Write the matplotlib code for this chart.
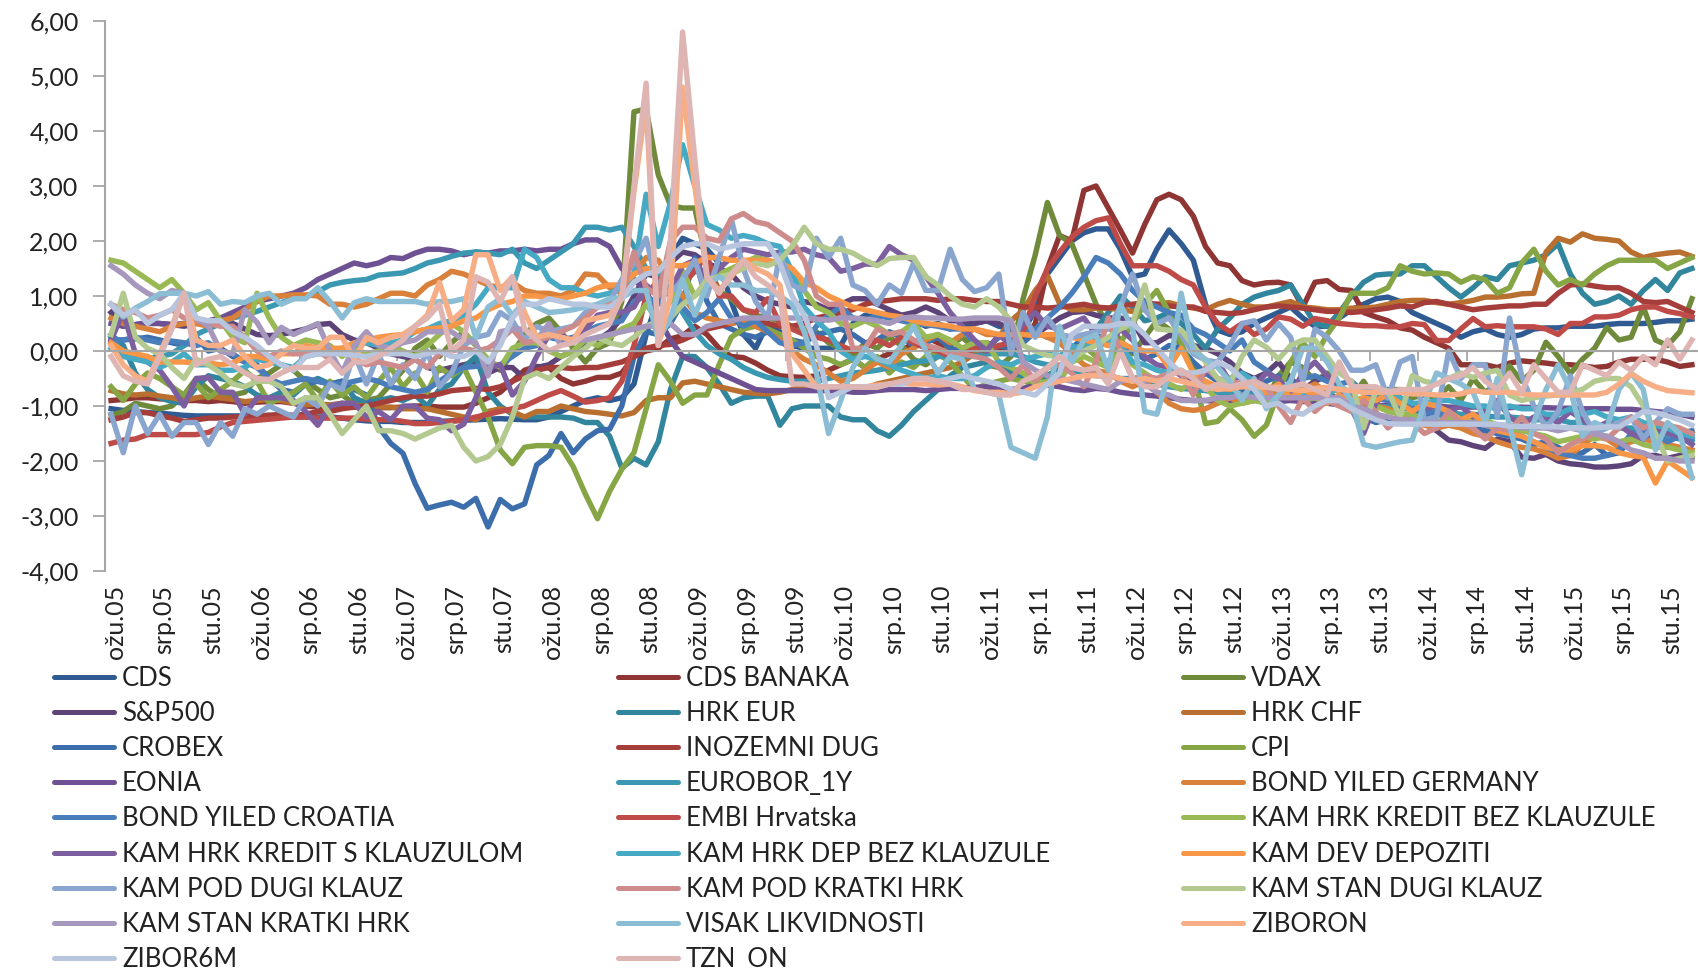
import matplotlib
matplotlib.use("Agg")
import matplotlib.pyplot as plt
from matplotlib.lines import Line2D
from matplotlib.transforms import ScaledTranslation
import numpy as np

plt.rcParams['font.family'] = ['Lato', 'DejaVu Sans']

# monthly values, ozu.05 - sij.16, one row per year
cds = [-1.05,-1.08,-1.10,-1.12,-1.13,-1.15,-1.17,-1.18,-1.18,-1.18,
 -1.18,-1.18,-1.18,-1.17,-1.18,-1.20,-1.20,-1.20,-1.20,-1.22,-1.25,-1.27,
 -1.28,-1.28,-1.30,-1.30,-1.30,-1.28,-1.27,-1.26,-1.25,-1.24,-1.23,-1.24,
 -1.25,-1.25,-1.20,-1.10,-1.00,-0.90,-0.85,-0.90,-0.85,-0.60,0.30,0.95,
 1.70,2.05,1.95,1.85,1.60,0.90,0.30,0.05,0.50,0.35,0.10,0.05,
 0.05,0.05,0.10,0.50,0.65,0.60,0.70,0.65,0.55,0.45,0.50,0.40,
 0.45,0.50,0.55,0.45,0.40,0.35,0.75,1.40,1.70,2.00,2.15,2.22,
 2.22,1.85,1.35,1.40,1.85,2.20,1.95,1.65,0.85,0.38,0.30,0.35,
 0.50,0.60,0.70,0.80,0.60,0.45,0.45,0.60,0.75,0.85,0.95,0.98,
 0.90,0.70,0.60,0.50,0.40,0.25,0.35,0.40,0.30,0.25,0.30,0.40,
 0.42,0.42,0.45,0.45,0.45,0.48,0.50,0.50,0.50,0.52,0.55,0.55,
 0.58]
cds_banaka = [-0.90,-0.88,-0.85,-0.85,-0.87,-0.88,-0.90,-0.90,-0.92,-0.90,
 -0.92,-0.95,-0.93,-0.92,-0.92,-0.95,-1.00,-1.02,-1.02,-1.02,-1.02,-1.02,
 -1.03,-1.03,-1.02,-1.00,-1.00,-1.02,-1.02,-1.02,-0.95,-0.85,-0.75,-0.55,
 -0.35,-0.28,-0.30,-0.50,-0.60,-0.55,-0.48,-0.48,-0.40,-0.10,0.00,0.05,
 0.22,0.28,0.45,0.30,0.05,-0.10,-0.12,-0.22,-0.35,-0.45,-0.47,-0.48,
 -0.45,-0.35,-0.25,-0.15,-0.30,-0.15,-0.05,0.00,0.15,0.25,0.15,-0.05,
 -0.10,0.05,0.15,0.05,-0.05,0.20,0.50,1.50,2.10,2.00,2.92,3.00,
 2.60,2.20,1.78,2.30,2.75,2.85,2.75,2.45,1.90,1.60,1.55,1.28,
 1.20,1.24,1.25,1.20,0.80,1.25,1.28,1.12,1.10,0.70,0.62,0.55,
 0.42,0.38,0.25,0.15,0.05,-0.25,-0.25,-0.25,-0.30,-0.22,-0.18,-0.20,
 -0.22,-0.25,-0.25,-0.27,-0.30,-0.28,-0.20,-0.15,-0.15,-0.15,-0.20,-0.28,
 -0.25]
vdax = [-1.17,-1.10,-0.95,-1.00,-1.05,-1.00,-0.80,-0.50,-0.70,-0.85,
 -0.80,-0.75,-0.50,-0.40,-0.25,-0.35,-0.55,-0.70,-0.85,-0.80,-0.95,-0.90,
 -0.85,-0.60,-0.35,0.05,0.20,-0.10,0.15,0.35,0.10,-0.20,-0.35,-0.05,
 0.30,0.50,0.60,0.35,0.05,-0.20,0.05,0.15,0.90,4.35,4.40,3.20,
 2.65,2.60,2.60,1.60,1.10,0.95,0.75,0.65,0.60,0.55,0.45,0.40,
 0.35,0.15,0.05,-0.10,0.15,0.05,0.25,0.10,-0.15,-0.25,-0.10,0.10,
 0.25,0.05,-0.25,-0.30,-0.10,0.95,1.75,2.70,2.10,1.95,1.40,0.85,
 0.45,0.20,-0.05,0.25,0.55,0.40,0.10,-0.30,-0.60,-0.70,-0.95,-0.55,
 -0.75,-0.90,-0.45,-0.20,-0.30,-0.55,-0.40,-0.65,-0.85,-0.55,-0.90,-0.70,
 -0.70,-0.85,-0.80,-0.85,-0.65,-0.90,-0.50,-0.75,-0.60,-0.27,-0.55,-0.35,
 0.16,-0.10,-0.41,-0.15,0.05,0.43,0.20,0.25,0.80,0.20,0.10,0.35,
 0.95]
sp500 = [0.70,0.45,0.48,0.50,0.50,0.48,0.45,0.50,0.55,0.55,
 0.50,0.40,0.30,0.28,0.30,0.35,0.40,0.48,0.50,0.30,0.20,0.15,
 0.05,-0.05,-0.10,-0.15,-0.30,-0.35,-0.30,-0.25,-0.20,-0.40,-0.30,-0.30,
 -0.50,-0.30,-0.25,-0.10,0.00,0.10,0.20,0.35,0.60,1.00,1.40,1.35,
 1.60,1.80,1.75,1.60,1.50,1.40,1.15,1.00,0.90,0.85,0.80,0.90,
 0.85,0.75,0.85,0.95,0.95,0.85,0.75,0.65,0.70,0.80,0.70,0.55,
 0.55,0.50,0.55,0.50,0.40,0.35,0.30,0.45,0.60,0.70,0.72,0.65,
 0.60,0.60,0.55,0.15,0.15,0.28,0.25,0.10,0.05,-0.05,-0.20,-0.40,
 -0.50,-0.40,-0.20,-0.50,-0.70,-0.55,-0.45,-0.60,-0.90,-1.10,-1.20,-1.25,
 -1.22,-1.25,-1.30,-1.45,-1.62,-1.65,-1.72,-1.77,-1.60,-1.65,-1.93,-1.95,
 -1.88,-2.00,-2.05,-2.07,-2.11,-2.11,-2.09,-2.05,-1.90,-1.90,-1.95,-1.90,
 -1.95]
hrk_eur = [0.30,0.10,-0.40,-0.70,-0.85,-0.92,-0.95,-0.65,-0.45,-0.50,
 -0.55,-0.65,-0.80,-0.85,-0.75,-0.80,-0.60,-0.50,-0.60,-0.55,-0.85,-0.95,
 -0.90,-0.85,-0.90,-0.80,-1.00,-0.70,-0.60,-0.30,-0.10,-0.75,-1.00,-1.15,
 -1.20,-1.20,-1.20,-1.20,-1.22,-1.30,-1.30,-1.55,-2.13,-1.95,-2.07,-1.65,
 -0.70,-0.10,-0.10,-0.30,-0.60,-0.95,-0.85,-0.82,-0.82,-1.35,-1.05,-1.00,
 -1.00,-1.00,-1.20,-1.25,-1.25,-1.45,-1.55,-1.35,-1.10,-0.90,-0.70,-0.45,
 -0.30,-0.25,-0.20,-0.25,-0.40,-0.50,-0.55,-0.45,-0.30,-0.05,0.10,0.40,
 0.70,1.00,0.80,0.55,0.60,0.70,0.50,0.30,0.05,0.40,0.60,0.85,
 0.98,1.05,1.10,1.20,0.85,0.50,0.45,0.70,1.00,1.25,1.38,1.40,
 1.40,1.55,1.55,1.35,1.15,0.98,1.15,1.35,1.30,1.55,1.60,1.65,
 1.75,1.95,1.40,1.05,0.85,0.90,1.00,0.85,1.10,1.30,1.10,1.42,
 1.50]
hrk_chf = [-0.72,-0.78,-0.80,-0.78,-0.82,-0.85,-0.90,-0.85,-0.82,-0.85,
 -0.88,-0.92,-0.90,-0.88,-0.90,-0.95,-0.98,-0.96,-0.98,-0.95,-1.00,-1.00,
 -1.02,-1.02,-1.05,-1.05,-1.05,-1.10,-1.15,-1.20,-1.25,-1.10,-1.05,-1.10,
 -1.20,-1.10,-1.10,-1.00,-1.05,-1.10,-1.12,-1.15,-1.18,-1.12,-0.90,-0.85,
 -0.85,-0.58,-0.55,-0.60,-0.65,-0.70,-0.75,-0.77,-0.78,-0.75,-0.70,-0.65,
 -0.68,-0.72,-0.72,-0.70,-0.68,-0.60,-0.55,-0.50,-0.45,-0.40,-0.35,-0.30,
 -0.20,-0.05,0.05,0.25,0.55,0.74,1.10,1.37,0.86,0.75,0.75,0.78,
 0.78,0.75,0.72,0.78,0.85,0.88,0.82,0.78,0.75,0.85,0.92,0.85,
 0.80,0.80,0.85,0.90,0.80,0.78,0.75,0.75,0.78,0.78,0.80,0.85,
 0.90,0.92,0.92,0.88,0.85,0.88,0.92,0.98,0.98,1.00,1.04,1.05,
 1.80,2.05,1.98,2.13,2.05,2.03,2.00,1.80,1.70,1.75,1.78,1.80,
 1.72]
crobex = [0.20,0.20,0.22,0.25,0.20,0.15,0.10,0.25,0.00,0.05,
 -0.10,-0.20,-0.25,-0.50,-0.70,-0.75,-0.60,-0.55,-0.60,-0.55,-0.70,-0.80,
 -1.38,-1.68,-1.86,-2.41,-2.86,-2.80,-2.75,-2.84,-2.68,-3.20,-2.70,-2.87,
 -2.78,-2.07,-1.90,-1.50,-1.85,-1.60,-1.45,-1.42,-1.00,-0.10,0.35,0.30,
 0.50,0.90,1.70,0.90,0.50,0.40,0.30,0.25,0.35,0.30,0.20,0.15,
 0.30,0.35,0.40,0.30,0.15,0.20,0.35,0.25,0.10,0.15,0.25,0.05,
 0.00,-0.10,-0.05,0.10,0.05,0.15,0.35,0.25,0.20,0.05,0.25,0.30,
 0.15,0.10,0.00,-0.15,-0.05,0.10,0.05,-0.20,-0.40,-0.55,-0.50,-0.70,
 -0.75,-0.55,-0.45,-0.55,-0.65,-0.90,-0.80,-0.85,-1.05,-1.20,-1.30,-1.25,
 -1.30,-1.10,-1.15,-1.30,-1.25,-1.30,-1.40,-1.45,-1.50,-1.55,-1.60,-1.70,
 -1.65,-1.75,-1.90,-1.85,-1.70,-1.90,-1.85,-1.60,-1.55,-1.60,-1.55,-1.50,
 -1.45]
inozemni_dug = [-1.25,-1.20,-1.12,-1.12,-1.18,-1.22,-1.28,-1.25,-1.22,-1.22,
 -1.20,-1.20,-1.18,-1.17,-1.15,-1.17,-1.15,-1.10,-1.10,-1.05,-1.02,-1.00,
 -0.95,-0.90,-0.85,-0.82,-0.82,-0.78,-0.72,-0.70,-0.68,-0.70,-0.65,-0.55,
 -0.45,-0.35,-0.30,-0.30,-0.32,-0.30,-0.30,-0.25,-0.20,-0.10,0.05,0.10,
 0.12,0.20,0.30,0.40,0.45,0.50,0.55,0.55,0.50,0.45,0.45,0.50,
 0.60,0.65,0.70,0.75,0.85,0.90,0.92,0.95,0.95,0.95,0.92,0.95,
 0.95,0.92,0.90,0.90,0.85,0.80,0.80,0.78,0.80,0.82,0.85,0.80,
 0.78,0.82,0.85,0.88,0.85,0.82,0.80,0.80,0.72,0.70,0.68,0.70,
 0.75,0.80,0.82,0.80,0.78,0.75,0.72,0.72,0.70,0.72,0.75,0.78,
 0.82,0.80,0.88,0.90,0.85,0.80,0.75,0.78,0.80,0.82,0.82,0.85,
 0.85,1.05,1.20,1.22,1.18,1.15,1.15,1.05,0.90,0.88,0.90,0.80,
 0.70]
cpi = [-0.65,-0.90,-0.60,-0.40,-0.50,-0.65,-0.80,-0.60,-0.85,-0.70,
 -0.55,-0.35,-0.55,-0.95,-0.85,-0.75,-0.60,-0.90,-0.55,-0.80,-0.65,-0.85,
 -0.55,-0.30,-0.65,-0.40,-0.75,-0.30,-0.45,-0.30,-0.75,-1.20,-1.80,-2.05,
 -1.75,-1.72,-1.72,-1.75,-2.10,-2.60,-3.05,-2.55,-2.15,-1.85,-1.05,-0.25,
 -0.55,-0.95,-0.80,-0.80,-0.25,0.25,0.40,0.45,0.40,0.30,0.20,0.05,
 -0.10,-0.15,-0.25,-0.15,-0.30,-0.10,-0.40,-0.20,-0.30,-0.10,-0.05,-0.20,
 -0.45,-0.70,-0.60,-0.55,-0.50,-0.55,-0.60,-0.30,-0.10,0.05,0.10,-0.10,
 -0.20,0.15,0.50,0.85,1.10,0.70,0.15,-0.40,-1.32,-1.28,-1.05,-1.25,
 -1.55,-1.35,-0.75,-0.20,0.15,-0.10,0.30,0.60,1.05,1.05,1.05,1.15,
 1.55,1.45,1.40,1.42,1.40,1.25,1.35,1.30,1.05,1.15,1.60,1.85,
 1.45,1.20,1.30,1.20,1.40,1.55,1.65,1.65,1.65,1.65,1.50,1.60,
 1.70]
eonia = [0.50,0.45,0.48,0.52,0.50,0.48,0.50,0.52,0.55,0.60,
 0.70,0.80,0.90,0.95,1.00,1.05,1.15,1.30,1.40,1.50,1.60,1.55,
 1.60,1.70,1.68,1.78,1.85,1.85,1.82,1.75,1.80,1.78,1.82,1.82,
 1.85,1.82,1.85,1.85,1.95,2.02,2.02,1.90,1.50,1.30,1.10,0.60,
 0.20,-0.10,-0.20,-0.30,-0.40,-0.50,-0.60,-0.70,-0.72,-0.72,-0.72,-0.72,
 -0.72,-0.72,-0.72,-0.75,-0.75,-0.72,-0.70,-0.70,-0.70,-0.72,-0.70,-0.68,
 -0.68,-0.66,-0.65,-0.70,-0.70,-0.68,-0.62,-0.62,-0.65,-0.70,-0.72,-0.68,
 -0.70,-0.75,-0.78,-0.80,-0.82,-0.85,-0.88,-0.90,-0.90,-0.92,-0.92,-0.90,
 -0.90,-0.90,-0.92,-0.90,-0.92,-0.92,-0.95,-0.98,-0.98,-1.00,-1.00,-0.98,
 -1.00,-1.02,-1.00,-1.00,-1.02,-1.02,-1.02,-1.02,-1.03,-1.03,-1.02,-1.03,
 -1.03,-1.04,-1.04,-1.05,-1.05,-1.05,-1.06,-1.06,-1.08,-1.10,-1.12,-1.15,
 -1.20]
eurobor_1y = [0.25,-0.05,-0.10,-0.15,-0.10,-0.05,0.10,0.30,0.40,0.50,
 0.60,0.65,0.72,0.80,0.88,0.95,1.00,1.08,1.20,1.25,1.28,1.30,
 1.38,1.40,1.42,1.50,1.60,1.65,1.72,1.78,1.80,1.78,1.75,1.85,
 1.60,1.50,1.65,1.80,1.95,2.25,2.25,2.20,2.25,1.90,1.50,1.40,
 1.30,0.70,0.35,0.10,-0.05,-0.15,-0.30,-0.40,-0.48,-0.52,-0.55,-0.55,
 -0.55,-0.50,-0.45,-0.40,-0.38,-0.35,-0.30,-0.25,-0.20,-0.18,-0.10,-0.10,
 -0.08,-0.10,-0.05,-0.05,-0.05,-0.10,-0.20,-0.25,-0.30,-0.35,-0.40,-0.45,
 -0.45,-0.50,-0.50,-0.55,-0.60,-0.65,-0.68,-0.70,-0.72,-0.75,-0.78,-0.80,
 -0.80,-0.82,-0.85,-0.82,-0.85,-0.85,-0.88,-0.90,-0.92,-0.95,-1.00,-1.02,
 -1.05,-1.05,-1.10,-1.10,-1.12,-1.15,-1.15,-1.18,-1.20,-1.20,-1.22,-1.25,
 -1.25,-1.25,-1.30,-1.30,-1.35,-1.35,-1.40,-1.40,-1.45,-1.50,-1.55,-1.60,
 -1.65]
bond_germany = [0.60,0.50,0.45,0.40,0.35,0.45,0.50,0.50,0.45,0.55,
 0.60,0.75,0.90,1.00,1.00,1.02,1.02,1.00,0.85,0.85,0.80,0.85,
 0.95,1.05,1.05,1.00,1.20,1.30,1.45,1.40,1.30,1.20,1.15,1.25,
 1.10,1.05,1.05,1.00,1.10,1.40,1.38,1.15,1.05,1.40,1.70,1.65,
 1.30,1.00,0.70,0.60,0.55,0.50,0.55,0.45,0.35,0.20,0.00,-0.15,
 -0.25,-0.40,-0.55,-0.50,-0.35,-0.20,-0.30,-0.05,0.05,0.20,0.30,0.15,
 0.30,0.40,0.30,0.30,0.25,0.35,0.35,0.25,0.15,-0.05,-0.25,-0.35,
 -0.40,-0.55,-0.65,-0.55,-0.75,-0.95,-1.05,-1.08,-1.05,-0.95,-0.85,-0.95,
 -0.90,-0.80,-0.75,-0.80,-0.70,-0.60,-0.75,-0.70,-0.85,-0.95,-1.00,-1.05,
 -1.15,-1.30,-1.35,-1.40,-1.35,-1.40,-1.50,-1.55,-1.65,-1.72,-1.75,-1.78,
 -1.85,-1.95,-1.90,-1.70,-1.55,-1.60,-1.75,-1.65,-1.60,-1.65,-1.70,-1.75,
 -1.80]
bond_croatia = [0.20,0.20,0.25,0.20,0.15,0.18,0.15,0.10,0.15,0.00,
 -0.05,-0.20,-0.30,-0.50,-0.60,-0.55,-0.50,-0.55,-0.60,-0.60,-0.55,-0.50,
 -0.55,-0.65,-0.70,-0.75,-0.70,-0.55,-0.40,-0.30,-0.28,-0.25,-0.25,-0.10,
 0.05,0.10,0.25,0.20,0.25,0.35,0.45,0.50,0.55,0.90,1.00,0.85,
 1.20,0.80,0.55,0.70,0.95,0.60,0.45,0.55,0.35,0.15,0.10,0.15,
 0.45,0.65,0.80,0.60,0.55,0.65,0.60,0.55,0.50,0.48,0.45,0.40,
 0.40,0.15,0.05,0.25,0.45,0.35,0.40,0.60,0.80,1.05,1.35,1.70,
 1.60,1.40,1.10,0.90,0.80,0.70,0.65,0.40,0.30,0.15,0.00,0.20,
 -0.20,-0.35,-0.55,-0.80,-0.50,-0.45,-0.55,-0.60,-0.55,-0.75,-0.85,-0.90,
 -1.00,-1.05,-1.10,-1.15,-1.20,-1.25,-1.30,-1.35,-1.40,-1.45,-1.55,-1.65,
 -1.75,-1.85,-1.90,-1.95,-1.95,-1.90,-1.80,-1.50,-1.45,-1.50,-1.65,-1.55,
 -1.60]
embi = [-1.68,-1.62,-1.60,-1.52,-1.52,-1.52,-1.52,-1.52,-1.48,-1.38,
 -1.30,-1.28,-1.26,-1.24,-1.22,-1.20,-1.20,-1.22,-1.22,-1.22,-1.22,-1.24,
 -1.25,-1.25,-1.28,-1.32,-1.32,-1.30,-1.28,-1.25,-1.20,-1.15,-1.10,-1.05,
 -1.00,-0.90,-0.80,-0.72,-0.82,-0.93,-0.90,-0.85,-0.55,0.10,1.00,1.30,
 1.00,1.20,1.45,1.75,1.00,1.00,0.75,0.70,0.95,0.50,0.40,0.30,
 0.25,0.20,0.10,0.00,0.05,0.20,0.10,0.25,0.15,0.05,0.00,-0.10,
 -0.05,0.05,0.00,0.10,0.15,0.35,1.00,1.50,1.80,2.07,2.25,2.37,
 2.42,1.95,1.55,1.55,1.55,1.45,1.30,1.20,0.80,0.50,0.35,0.50,
 0.30,0.40,0.62,0.58,0.45,0.59,0.55,0.50,0.48,0.46,0.46,0.44,
 0.44,0.50,0.48,0.19,0.19,0.40,0.59,0.44,0.46,0.44,0.44,0.44,
 0.40,0.30,0.50,0.50,0.62,0.62,0.65,0.75,0.80,0.80,0.72,0.68,
 0.62]
kam_hrk_bez = [1.65,1.60,1.45,1.30,1.15,1.30,1.05,0.75,0.88,0.55,
 0.25,0.15,1.05,0.60,0.25,0.10,0.20,0.15,0.10,-0.10,0.05,-0.05,
 0.00,0.10,0.00,-0.10,0.10,0.30,0.50,0.35,0.10,-0.15,-0.30,0.05,
 0.15,0.15,0.00,-0.10,0.00,0.20,0.10,0.25,0.40,0.50,0.85,0.55,
 0.90,1.45,1.00,1.20,1.40,1.50,1.60,1.70,1.65,1.55,1.40,1.10,
 0.80,0.70,0.50,0.45,0.55,0.45,0.30,0.35,0.50,0.25,0.30,0.20,
 0.05,0.15,0.15,-0.20,-0.30,-0.40,-0.60,-0.55,-0.55,-0.20,-0.10,-0.20,
 -0.30,0.00,-0.25,-0.40,-0.55,-0.60,-0.70,-0.55,-0.65,-0.90,-1.00,-0.95,
 -0.90,-0.95,-0.85,-0.60,-0.90,-0.85,-0.95,-0.80,-0.90,-0.85,-1.00,-1.10,
 -1.15,-1.15,-1.25,-1.30,-1.20,-1.30,-1.20,-1.25,-1.35,-1.40,-1.45,-1.50,
 -1.55,-1.65,-1.60,-1.55,-1.60,-1.55,-1.65,-1.60,-1.70,-1.75,-1.75,-1.80,
 -1.85]
kam_hrk_s = [0.20,0.70,-0.05,-0.20,-0.35,-0.65,-1.00,-0.50,-0.48,-0.75,
 -0.75,-1.15,-0.85,-0.85,-0.85,-0.90,-1.10,-1.35,-1.00,-0.95,-0.95,-1.20,
 -1.10,-1.25,-1.00,-1.00,-1.22,-1.25,-1.45,-1.33,-0.85,-0.30,-0.25,-0.80,
 -0.55,-0.10,0.30,0.30,0.15,0.40,0.65,0.70,0.70,0.80,1.20,1.00,
 1.10,1.55,1.65,1.30,1.50,1.70,1.85,1.80,1.75,1.80,1.80,1.85,
 1.75,1.70,1.45,1.50,1.58,1.58,1.90,1.75,1.65,1.35,1.05,0.70,
 0.45,0.20,0.00,0.30,0.10,0.50,0.70,0.45,0.40,0.50,0.60,0.30,
 0.10,0.40,0.20,-0.10,-0.25,-0.30,-0.45,-0.60,-0.40,-0.20,-0.55,-0.45,
 -0.65,-0.40,-0.50,-0.80,-0.40,-0.20,-0.45,-0.60,-1.05,-1.50,-0.95,-0.70,
 -0.85,-0.95,-1.05,-1.00,-1.10,-1.00,-1.20,-1.10,-0.90,-1.20,-1.35,-1.20,
 -1.20,-1.30,-1.10,-1.25,-1.40,-1.30,-1.35,-1.50,-1.60,-1.40,-1.50,-1.55,
 -1.70]
kam_hrk_dep = [0.05,-0.10,-0.15,-0.20,-0.30,-0.20,-0.05,-0.25,-0.25,-0.35,
 -0.35,-0.30,-0.15,-0.20,-0.25,-0.30,-0.10,-0.05,-0.05,0.05,0.10,0.15,
 0.10,0.15,0.20,0.35,0.40,0.50,0.55,0.65,0.85,1.15,1.15,1.15,
 1.85,1.70,1.30,1.15,1.15,1.05,1.00,1.05,1.15,1.40,2.85,1.90,
 2.70,3.75,3.00,2.30,2.20,2.05,2.10,2.05,1.95,1.90,1.45,0.80,
 0.55,0.35,0.00,-0.15,-0.10,-0.15,-0.25,-0.35,-0.42,-0.50,-0.45,-0.50,
 -0.50,-0.45,-0.30,-0.20,-0.25,-0.15,-0.10,-0.05,-0.10,0.10,0.00,0.25,
 0.20,0.10,-0.20,-0.25,-0.35,-0.40,-0.35,-0.50,-0.60,-0.65,-0.50,-0.40,
 -0.55,-0.65,-0.70,-0.60,-0.75,-0.80,-0.80,-0.65,-0.75,-0.70,-0.75,-0.85,
 -0.85,-0.95,-0.95,-0.90,-0.90,-0.95,-1.00,-1.00,-1.05,-1.00,-1.05,-1.05,
 -1.15,-1.15,-1.05,-1.15,-1.10,-1.20,-1.25,-1.20,-1.30,-1.35,-1.40,-1.50,
 -1.55]
kam_dev = [0.15,0.00,-0.05,-0.10,-0.20,-0.20,-0.20,-0.22,-0.22,-0.25,
 -0.22,-0.10,-0.10,-0.15,-0.05,-0.05,0.10,0.05,0.05,0.05,0.15,0.20,
 0.25,0.28,0.30,0.35,0.40,0.42,0.45,0.55,0.60,0.75,0.85,0.90,
 1.00,1.00,0.95,0.95,1.00,1.05,1.15,1.20,1.20,1.40,1.50,1.50,
 1.55,1.55,1.60,1.70,1.70,1.65,1.65,1.65,1.65,1.60,1.50,1.25,
 1.15,1.00,0.90,0.80,0.75,0.70,0.65,0.62,0.55,0.50,0.48,0.45,
 0.40,0.40,0.35,0.30,0.30,0.30,0.28,0.30,0.30,0.25,0.20,0.15,
 0.10,0.15,0.05,0.00,0.00,-0.30,0.05,-0.40,-0.55,-0.65,-0.70,-0.60,
 -0.70,-0.75,-0.60,-0.85,-0.70,-0.80,-0.95,-0.80,-0.95,-0.85,-0.90,-0.80,
 -0.95,-1.10,-0.95,-1.00,-1.10,-1.25,-1.15,-1.30,-1.45,-1.50,-1.55,-1.65,
 -1.75,-1.80,-1.80,-1.72,-1.72,-1.75,-1.85,-1.90,-1.93,-2.40,-2.00,-2.15,
 -2.30]
kam_pod_dugi = [-1.15,-1.85,-1.00,-1.50,-1.15,-1.55,-1.30,-1.30,-1.70,-1.30,
 -1.55,-1.05,-1.15,-1.00,-1.10,-1.20,-0.85,-1.00,-0.60,-0.70,-0.05,-0.60,
 -0.05,-0.60,-0.25,-0.50,0.00,-0.65,-0.40,0.10,0.25,0.30,0.70,0.55,
 0.20,0.45,0.35,0.40,0.45,0.70,0.80,0.90,1.30,1.60,2.05,1.10,
 1.05,1.30,1.65,1.00,1.70,2.40,1.50,0.90,0.60,1.75,1.20,1.10,
 2.05,1.70,2.05,1.20,1.10,0.85,1.20,1.05,1.60,1.10,1.10,1.85,
 1.30,1.08,1.15,1.40,-0.05,0.70,0.25,0.60,0.30,0.25,0.30,0.35,
 0.40,0.80,1.40,0.75,0.50,0.60,0.30,-0.05,-0.17,-0.20,0.10,0.50,
 0.55,0.20,0.50,0.25,-0.55,0.40,0.25,0.00,-0.35,-0.35,-0.25,-0.85,
 -0.20,-0.10,-1.25,-1.20,0.00,-0.50,-0.25,-0.25,-1.20,0.60,-0.45,-1.00,
 -1.40,-1.10,-0.45,-1.10,-1.50,-1.40,-1.30,-1.20,-1.60,-1.30,-1.05,-1.15,
 -1.15]
kam_pod_kratki = [0.85,0.75,0.70,0.60,0.65,0.75,0.60,0.55,0.50,0.45,
 0.45,0.25,0.00,-0.10,0.00,-0.05,-0.05,0.00,-0.15,-0.35,-0.15,-0.25,
 -0.20,-0.25,-0.30,-0.15,-0.30,-0.05,0.00,0.05,0.00,0.05,0.20,0.40,
 0.15,0.20,0.25,0.35,0.45,0.60,0.80,0.85,1.00,1.80,1.15,1.00,
 2.00,2.25,2.25,2.05,2.00,2.40,2.50,2.35,2.30,2.15,2.00,1.65,
 1.00,0.85,0.85,0.05,0.05,0.40,0.30,0.35,0.20,0.10,0.05,-0.05,
 -0.05,-0.10,-0.15,-0.30,-0.50,-0.25,-0.55,-0.30,-0.25,-0.40,-0.65,-0.20,
 0.60,0.00,-0.50,-0.45,-0.50,-0.40,-0.40,-0.80,-0.30,-0.50,-0.55,-0.60,
 -0.55,-0.65,-1.00,-1.30,-0.85,-1.10,-0.90,-1.00,-1.10,-0.90,-1.10,-1.40,
 -1.20,-1.30,-1.50,-1.40,-1.10,-1.30,-1.40,-1.60,-1.40,-1.45,-1.20,-1.50,
 -1.60,-1.85,-1.70,-1.60,-1.50,-1.60,-1.40,-1.20,-1.40,-1.30,-1.35,-1.40,
 -1.50]
stan_dugi = [0.30,1.05,0.25,0.05,-0.05,-0.30,-0.50,-0.15,-0.25,-0.40,
 -0.60,-0.65,-0.55,-0.55,-0.65,-0.95,-0.85,-0.85,-1.15,-1.50,-1.25,-1.00,
 -1.45,-1.45,-1.50,-1.60,-1.50,-1.40,-1.35,-1.75,-2.00,-1.92,-1.70,-1.20,
 -0.50,-0.40,-0.50,-0.30,-0.10,0.05,0.25,0.15,0.10,0.25,0.45,0.55,
 0.60,0.85,1.00,1.30,1.35,1.40,1.50,1.60,1.55,1.65,1.90,2.25,
 1.95,1.85,1.85,1.78,1.65,1.55,1.68,1.70,1.70,1.35,1.20,1.00,
 0.85,0.80,0.95,0.80,0.55,0.10,0.00,-0.08,-0.10,-0.15,0.00,0.10,
 0.25,0.40,0.50,1.20,0.40,0.38,0.38,0.10,-0.20,-0.50,-0.60,-0.10,
 0.20,0.07,-0.15,0.10,0.20,0.20,-0.10,-0.40,-0.55,-1.40,-0.72,-0.72,
 -1.20,-0.45,-0.55,-0.60,-0.50,-0.40,-0.48,-0.40,-0.35,-0.80,-0.90,-0.85,
 -0.82,-0.80,-0.75,-0.70,-0.55,-0.50,-0.50,-0.65,-1.00,-1.50,-2.00,-1.95,
 -1.90]
stan_kratki = [1.55,1.40,1.20,1.05,0.95,1.10,1.05,0.60,0.45,0.00,
 -0.05,0.75,0.52,0.15,0.43,0.30,0.40,0.50,0.00,-0.40,0.10,0.35,
 0.10,0.05,0.15,0.20,0.35,0.35,0.35,0.20,0.15,-0.45,0.35,0.40,
 0.40,0.20,0.50,0.10,0.20,0.20,0.25,0.30,0.35,0.40,0.45,0.45,
 0.50,0.30,0.30,0.45,0.50,0.55,0.60,0.60,0.60,0.60,0.60,0.60,
 0.58,0.56,0.60,0.60,0.58,0.55,0.50,0.60,0.62,0.60,0.60,0.58,
 0.58,0.60,0.60,0.60,0.55,-0.20,-0.35,-0.45,-0.50,-0.55,-0.60,-0.65,
 -0.70,-0.55,-0.50,-0.60,-0.75,-0.80,-0.90,-0.90,-0.90,-0.85,-0.85,-0.80,
 -0.85,-0.85,-0.85,-0.85,-0.85,-0.85,-0.85,-0.85,-1.00,-1.05,-1.15,-1.20,
 -1.25,-1.25,-1.30,-1.30,-1.30,-1.30,-1.30,-1.35,-1.35,-1.35,-1.40,-1.40,
 -1.40,-1.45,-1.40,-1.45,-1.50,-1.55,-1.65,-1.80,-1.85,-1.95,-1.95,-2.00,
 -2.00]
visak = [0.85,0.62,0.78,0.90,1.04,1.05,1.05,1.00,1.08,0.85,
 0.90,0.88,1.00,1.05,0.85,0.95,0.95,1.15,0.90,0.60,0.88,0.95,
 0.90,0.90,0.90,0.90,0.85,0.90,0.90,0.95,0.25,0.80,0.95,0.65,
 0.90,0.80,0.70,0.72,0.75,0.80,0.85,0.95,0.97,1.10,1.10,0.20,
 0.60,1.30,0.65,1.20,1.35,1.20,1.20,1.10,1.10,1.00,0.85,0.35,
 -0.40,-1.50,-0.90,-0.30,0.05,-0.15,-0.20,0.10,0.45,0.00,-0.40,-0.10,
 -0.15,-0.70,-0.75,-0.80,-1.75,-1.85,-1.95,-1.20,0.45,-0.20,0.20,0.30,
 -0.35,0.85,0.40,-1.10,-1.15,-0.40,1.05,0.00,-0.15,-0.30,-0.55,-0.90,
 -0.50,-1.05,-0.80,-0.55,0.05,0.05,-0.20,-0.60,-0.90,-1.70,-1.75,-1.70,
 -1.65,-1.62,-0.95,-0.40,-0.50,-0.60,-0.75,-1.30,-0.50,-1.35,-2.25,-1.30,
 -0.70,-0.25,-0.70,-1.55,-1.30,-1.40,-0.70,-0.40,-0.70,-1.80,-1.30,-1.50,
 -2.30]
ziboron = [0.10,-0.25,-0.45,-0.55,-0.05,0.45,1.05,0.20,0.10,0.10,
 0.20,-0.10,-0.30,-0.25,-0.05,0.10,0.05,0.05,0.25,0.25,-0.15,0.25,
 0.15,0.25,0.30,0.45,0.65,1.25,0.55,0.75,1.75,1.75,1.10,1.35,
 0.70,0.25,0.30,0.25,0.20,0.55,0.60,0.65,0.95,2.90,4.50,0.10,
 1.00,4.80,3.00,1.35,1.10,1.35,1.65,1.50,1.40,1.20,-0.05,-0.35,
 -0.65,-0.65,-0.65,-0.65,-0.65,-0.62,-0.60,-0.58,-0.60,-0.60,-0.62,-0.60,
 -0.65,-0.72,-0.75,-0.75,-0.78,-0.75,-0.65,-0.60,-0.55,-0.50,-0.45,-0.45,
 -0.45,-0.50,-0.55,-0.50,-0.55,-0.50,-0.55,-0.60,-0.65,-0.70,-0.68,-0.65,
 -0.65,-0.66,-0.66,-0.70,-0.72,-0.68,-0.66,-0.70,-0.72,-0.75,-0.75,-0.75,
 -0.75,-0.78,-0.78,-0.80,-0.80,-0.78,-0.72,-0.75,-0.75,-0.75,-0.78,-0.80,
 -0.80,-0.80,-0.80,-0.80,-0.80,-0.75,-0.60,-0.41,-0.55,-0.65,-0.72,-0.74,
 -0.76]
zibor6m = [0.85,0.65,0.75,0.50,0.65,0.75,1.05,0.60,0.55,0.55,
 0.35,0.25,0.10,-0.10,-0.25,-0.35,-0.10,-0.05,-0.05,-0.05,-0.08,-0.10,
 -0.05,-0.05,-0.05,-0.10,-0.05,0.00,-0.10,-0.10,0.00,-0.20,0.10,0.60,
 0.85,0.85,0.95,0.90,0.85,0.85,0.80,0.80,0.95,1.25,1.40,1.45,
 1.70,1.90,1.95,1.95,1.85,1.90,1.95,1.95,1.95,1.60,1.00,0.65,
 0.10,-0.85,-0.75,-0.65,-0.65,-0.65,-0.60,-0.60,-0.50,-0.50,-0.55,-0.50,
 -0.45,-0.50,-0.55,-0.60,-0.70,-0.75,-0.80,-0.60,-0.40,0.30,0.45,0.45,
 0.45,0.50,0.50,0.30,0.05,-0.20,-0.40,-0.40,-0.35,-0.20,-0.30,-0.50,
 -0.70,-1.00,-0.95,-1.10,-1.15,-1.00,-0.90,-0.90,-1.05,-1.15,-1.25,-1.32,
 -1.33,-1.33,-1.33,-1.33,-1.33,-1.33,-1.33,-1.33,-1.33,-1.37,-1.37,-1.37,
 -1.38,-1.38,-1.40,-1.40,-1.40,-1.38,-1.38,-1.25,-1.10,-1.12,-1.18,-1.25,
 -1.35]
tzn_on = [-0.10,-0.45,-0.55,-0.60,-0.10,0.40,1.05,-0.25,-0.15,-0.10,
 -0.25,-0.40,-0.50,-0.52,-0.40,-0.30,-0.30,-0.30,-0.15,-0.40,-0.20,-0.20,
 -0.10,0.05,0.20,0.45,0.60,0.85,0.00,0.20,1.35,1.25,0.90,1.35,
 0.40,0.20,0.00,0.10,0.15,0.30,0.40,0.50,1.00,3.00,4.87,0.10,
 2.00,5.80,3.50,1.35,1.05,1.40,1.65,1.35,1.20,1.00,-0.60,-0.60,
 -0.65,-0.65,-0.65,-0.65,-0.66,-0.66,-0.60,-0.55,-0.50,-0.50,-0.55,-0.60,
 -0.70,-0.70,-0.75,-0.80,-0.80,-0.55,-0.45,-0.30,-0.10,-0.30,-0.35,-0.30,
 -0.60,0.00,-0.50,-0.65,-0.65,-0.45,-0.35,-0.50,-0.70,-0.60,-0.65,-0.60,
 -0.55,-0.65,-0.70,-0.65,-0.60,-0.70,-0.80,-0.20,-0.65,-0.65,-0.65,-0.75,
 -0.70,-0.70,-0.70,-0.60,-0.50,-0.45,-0.30,-0.55,-0.70,-0.40,-0.75,-0.25,
 -0.50,-0.75,-0.75,-0.25,-0.35,-0.45,-0.20,-0.35,-0.10,-0.25,0.20,-0.15,
 0.20]

names = ["CDS", "CDS BANAKA", "VDAX", "S&P500", "HRK EUR", "HRK CHF", "CROBEX",
         "INOZEMNI DUG", "CPI", "EONIA", "EUROBOR_1Y", "BOND YILED GERMANY",
         "BOND YILED CROATIA", "EMBI Hrvatska", "KAM HRK KREDIT BEZ KLAUZULE",
         "KAM HRK KREDIT S KLAUZULOM", "KAM HRK DEP BEZ KLAUZULE", "KAM DEV DEPOZITI",
         "KAM POD DUGI KLAUZ", "KAM POD KRATKI HRK", "KAM STAN DUGI KLAUZ",
         "KAM STAN KRATKI HRK", "VISAK LIKVIDNOSTI", "ZIBORON", "ZIBOR6M", "TZN_ON"]
series = [cds, cds_banaka, vdax, sp500, hrk_eur, hrk_chf, crobex, inozemni_dug, cpi,
          eonia, eurobor_1y, bond_germany, bond_croatia, embi, kam_hrk_bez, kam_hrk_s,
          kam_hrk_dep, kam_dev, kam_pod_dugi, kam_pod_kratki, stan_dugi, stan_kratki,
          visak, ziboron, zibor6m, tzn_on]
colors = ["#2f5b92", "#8f3634", "#6f8a3a", "#5e4379", "#31859c", "#b86f30", "#3c6eab",
          "#a53e3b", "#86a545", "#6e5193", "#3a98b2", "#d9803a", "#4a7ebb", "#be4b48",
          "#98b954", "#7d5fa0", "#46aac5", "#f79646", "#8aa6cf", "#cd8c8b", "#b3c990",
          "#a697bc", "#8bbdd4", "#f7ae86", "#b8c5de", "#dfb5b4"]
tick_labels = ["ožu.05", "srp.05", "stu.05", "ožu.06", "srp.06", "stu.06", "ožu.07", "srp.07",
               "stu.07", "ožu.08", "srp.08", "stu.08", "ožu.09", "srp.09", "stu.09", "ožu.10",
               "srp.10", "stu.10", "ožu.11", "srp.11", "stu.11", "ožu.12", "srp.12", "stu.12",
               "ožu.13", "srp.13", "stu.13", "ožu.14", "srp.14", "stu.14", "ožu.15", "srp.15",
               "stu.15"]
y_labels = ["-4,00", "-3,00", "-2,00", "-1,00", "0,00", "1,00", "2,00", "3,00", "4,00", "5,00", "6,00"]

W, H = 1698, 969
fig = plt.figure(figsize=(W / 100, H / 100), dpi=100)
ax = fig.add_axes([105 / W, 1 - 571 / H, 1 - 105 / W, 550 / H])

for vals, col in zip(series, colors):
    ax.plot(np.arange(len(vals)), vals, color=col, lw=3.9, solid_joinstyle="round")

ax.set_xlim(-0.5, 130.5)
ax.set_ylim(-4, 6)
ax.set_yticks(np.arange(-4, 7))
ax.set_yticklabels(y_labels, fontsize=18, color="#222222")
ax.tick_params(axis="y", length=9, width=1.3, color="#a6a6a6", pad=10)

for s in ["top", "right"]:
    ax.spines[s].set_visible(False)
ax.spines["left"].set_color("#a6a6a6")
ax.spines["left"].set_linewidth(1.5)
ax.spines["bottom"].set_position(("data", 0))
ax.spines["bottom"].set_color("#a6a6a6")
ax.spines["bottom"].set_linewidth(1.5)
ax.set_xticks(np.arange(len(tick_labels)) * 4 - 0.5)
ax.tick_params(axis="x", length=7, width=1.3, color="#a6a6a6", labelbottom=False)

# month labels sit under the plot, the axis line stays at zero
sec = ax.secondary_xaxis("bottom")
sec.set_xticks(np.arange(len(tick_labels)) * 4)
sec.set_xticklabels(tick_labels, rotation=90, fontsize=18, color="#222222")
sec.tick_params(length=0, pad=10)
sec.spines["bottom"].set_visible(False)
nudge = ScaledTranslation(4 / 100, 0, fig.dpi_scale_trans)
for lab in sec.get_xticklabels():
    lab.set_transform(lab.get_transform() + nudge)

# legend by hand: 3 columns, filled row by row
col_x = [54, 618, 1183]
for k, (name, col) in enumerate(zip(names, colors)):
    x0 = col_x[k % 3]
    y0 = 1 - (677 + 35.1 * (k // 3)) / H
    fig.add_artist(Line2D([x0 / W, (x0 + 60) / W], [y0, y0], color=col, lw=3.6,
                          solid_capstyle="round"))
    fig.text((x0 + 68) / W, y0 - 1.5 / H, name, fontsize=18.5, color="#222222",
             va="center", ha="left")

fig.savefig("out.png", dpi=100)
